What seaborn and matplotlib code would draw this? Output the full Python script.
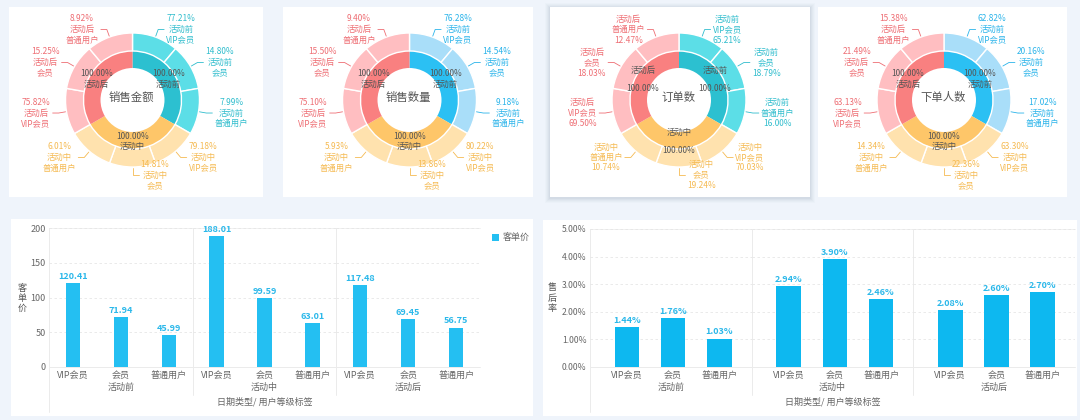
import numpy as np
import pandas as pd
import matplotlib
matplotlib.use('Agg')
import matplotlib.pyplot as plt
import seaborn as sns
from matplotlib.patches import Rectangle, Patch

# ---------------- data ----------------
stages = ['活动前', '活动中', '活动后']
levels = ['VIP会员', '会员', '普通用户']

donut_titles = ['销售金额', '销售数量', '订单数', '下单人数']
sales_amount = [77.21, 14.80, 7.99, 79.18, 14.81, 6.01, 75.82, 15.25, 8.92]
sales_qty = [76.28, 14.54, 9.18, 80.22, 13.86, 5.93, 75.10, 15.50, 9.40]
order_cnt = [65.21, 18.79, 16.00, 70.03, 19.24, 10.74, 69.50, 18.03, 12.47]
buyer_cnt = [62.82, 20.16, 17.02, 63.30, 22.36, 14.34, 63.13, 21.49, 15.38]
stage_share = [100.00, 100.00, 100.00]

unit_price = [120.41, 71.94, 45.99, 188.01, 99.59, 63.01, 117.48, 69.45, 56.75]
after_sale_rate = [1.44, 1.76, 1.03, 2.94, 3.90, 2.46, 2.08, 2.60, 2.70]
price_ticks = [0, 50, 100, 150, 200]
rate_ticks = [0, 1, 2, 3, 4, 5]

# ---------------- style ----------------
sns.set_theme(style='white')
plt.rcParams['font.family'] = ['Noto Sans CJK SC', 'DejaVu Sans']

W, H = 1080, 420
fig = plt.figure(figsize=(10.8, 4.2), dpi=100, facecolor='#EFF4FB')

bg = fig.add_axes([0, 0, 1, 1], zorder=0)
bg.set_xlim(0, W)
bg.set_ylim(H, 0)
bg.axis('off')

top_panels = [(9, 7, 263, 197), (283, 7, 533, 197), (550, 7, 810, 197), (818, 7, 1067, 197)]
bottom_panels = [(11, 219, 533, 416), (543, 220, 1077, 416)]

# shadow for selected panel
x0, y0, x1, y1 = top_panels[2]
for off, a in [(5, 0.025), (4, 0.03), (3, 0.04), (2, 0.05), (1, 0.06)]:
    bg.add_patch(Rectangle((x0 - off, y0 - off + 1), x1 - x0 + 2 * off, y1 - y0 + 2 * off,
                           fc='#6a7a90', ec='none', alpha=a))
for (x0, y0, x1, y1) in top_panels + bottom_panels:
    bg.add_patch(Rectangle((x0, y0), x1 - x0, y1 - y0, fc='white', ec='none'))

# ---------------- donuts ----------------
dax = fig.add_axes([0, 0, 1, 1], zorder=2)
dax.set_facecolor('none')

teal = dict(inner='#2CC0D0', outer='#5CDEE7', label='#30BDCD')
blue = dict(inner='#2BC0F3', outer='#A9DEF9', label='#2BB4EA')
mid_c = dict(inner='#FEC669', outer='#FFE2AE', label='#F5BA52')
post_c = dict(inner='#F98080', outer='#FFBEC1', label='#EE6E74')

donut_data = [sales_amount, sales_qty, order_cnt, buyer_cnt]
first_palette = [teal, blue, teal, blue]
centers = [(132.5, 100), (409.5, 100), (679, 100), (944, 100)]
R_out, R_mid, R_in = 67, 49, 32
lab_fs = 6.0
lab_ls = 1.22

for d in range(4):
    cx, cy = centers[d]
    pals = [first_palette[d], mid_c, post_c]
    inner_cols = [p['inner'] for p in pals]
    outer_cols = [pals[i // 3]['outer'] for i in range(9)]
    outer_sizes = np.repeat(np.array(stage_share) / 3.0, 3)
    dax.pie(stage_share, radius=R_mid, center=(cx, H - cy), startangle=90, counterclock=False,
            colors=inner_cols, wedgeprops=dict(width=R_mid - R_in, linewidth=0), frame=True)
    dax.pie(outer_sizes, radius=R_out, center=(cx, H - cy), startangle=90, counterclock=False,
            colors=outer_cols, wedgeprops=dict(width=R_out - R_mid, edgecolor='white', linewidth=1.0),
            frame=True)
    dax.text(cx - 1, H - cy + 3, donut_titles[d], ha='center', va='center', fontsize=8.2, color='#555555')

    # inner labels
    r_lab = (R_in + R_mid) / 2 + 1
    for g in range(3):
        th = np.deg2rad(60 + 120 * g)
        px, py = cx + r_lab * np.sin(th), cy - r_lab * np.cos(th)
        if d == 2:
            dax.text(px, H - (py - 9), stages[g], ha='center', va='center', fontsize=lab_fs, color='#555555')
            dax.text(px, H - (py + 9), f'{stage_share[g]:.2f}%', ha='center', va='center',
                     fontsize=lab_fs, color='#555555')
        else:
            dax.text(px, H - py, f'{stage_share[g]:.2f}%\n{stages[g]}', ha='center', va='center',
                     fontsize=lab_fs, color='#555555', linespacing=lab_ls)

    # outer labels
    vals = donut_data[d]
    for k in range(9):
        th = np.deg2rad(20 + 40 * k)
        s, c = np.sin(th), np.cos(th)
        side = 1 if s > -1e-6 else -1
        col = pals[k // 3]['label']
        p0 = (cx + (R_out + 1) * s, cy - (R_out + 1) * c)
        p1 = (cx + (R_out + 8) * s, cy - (R_out + 8) * c)
        p2 = (p1[0] + side * 6, p1[1])
        dax.plot([p0[0], p1[0], p2[0]], [H - p0[1], H - p1[1], H - p2[1]], color=col, lw=0.6)
        st, lv = stages[k // 3], levels[k % 3]
        if d == 2:
            txt = f'{st}\n{lv}\n{vals[k]:.2f}%'
        else:
            txt = f'{vals[k]:.2f}%\n{st}\n{lv}'
        dax.text(p2[0] + side * 2, H - p2[1], txt, ha='left' if side > 0 else 'right', va='center',
                 multialignment='center', fontsize=lab_fs, color=col, linespacing=lab_ls)

dax.set_xlim(0, W)
dax.set_ylim(0, H)
dax.set_aspect('auto')
dax.axis('off')


# ---------------- bar charts ----------------
def bar_chart(x0, x1, y0, y1, values, color, lab_color, ylim, ticks, tick_fmt, val_fmt, xlim, width,
              ylabel, ylab_x, tick_fs):
    gw = (x1 - x0) / 3.0
    for g in range(3):
        ax = fig.add_axes([(x0 + g * gw) / W, 1 - y1 / H, gw / W, (y1 - y0) / H], zorder=3)
        ax.set_facecolor('none')
        df = pd.DataFrame({'level': levels, 'value': values[g * 3:(g + 1) * 3]})
        sns.barplot(data=df, x='level', y='value', ax=ax, color=color, width=width,
                    saturation=1, errorbar=None, linewidth=0)
        ax.set_xlim(*xlim)
        ax.set_ylim(*ylim)
        ax.set_yticks(ticks)
        ax.yaxis.grid(True, color='#E6E6E6', linestyle=(0, (3, 3)), lw=0.6)
        ax.set_axisbelow(True)
        for sp in ax.spines.values():
            sp.set_visible(False)
        ax.tick_params(axis='both', length=0, labelsize=6.5, colors='#666666')
        ax.tick_params(axis='x', pad=3)
        if g == 0:
            ax.set_yticklabels([tick_fmt(t) for t in ticks])
            ax.tick_params(axis='y', pad=2.5, labelsize=tick_fs)
        else:
            ax.tick_params(labelleft=False)
        ax.set_ylabel('')
        ax.set_xlabel(stages[g], fontsize=6.5, color='#666666', labelpad=2)
        ax.bar_label(ax.containers[0], labels=[val_fmt(v) for v in df['value']], padding=1.5,
                     fontsize=6.5, color=lab_color, fontweight='bold')
    # frame lines
    bg.plot([x0, x1], [y0, y0], color='#F0F0F0', lw=0.7)
    bg.plot([x0, x1], [y1, y1], color='#EBEBEB', lw=0.7)
    bg.plot([x0, x0], [y0, 412], color='#EBEBEB', lw=0.7)
    for g in (1, 2):
        bg.plot([x0 + g * gw, x0 + g * gw], [y0, 395], color='#EBEBEB', lw=0.7)
    fig.text((x0 + x1) / 2 / W, 1 - 402 / H, '日期类型/ 用户等级标签', ha='center', va='center',
             fontsize=6.5, color='#666666')
    fig.text(ylab_x / W, 1 - 298 / H, ylabel, ha='center', va='center', fontsize=6.5,
             color='#555555', linespacing=1.15)


bar_chart(49, 480, 228, 367, unit_price, '#24BFF2', '#2BB8EA', (0, 200), price_ticks,
          lambda t: f'{t:d}', lambda v: f'{v:.2f}', (-0.5, 2.5), 0.3, '客\n单\n价', 22, 6.5)
bar_chart(590, 1075, 229, 367, after_sale_rate, '#0DB8F0', '#2BB8EA', (0, 5.0), rate_ticks,
          lambda t: f'{t:.2f}%', lambda v: f'{v:.2f}%', (-0.8, 2.7), 0.53, '售\n后\n率', 552, 6.2)

# legend for left bar chart
fig.legend(handles=[Patch(facecolor='#24BFF2', edgecolor='none', label='客单价')],
           loc='upper left', bbox_to_anchor=(484 / W, 1 - 225 / H), frameon=False,
           fontsize=6.5, handlelength=0.8, handleheight=0.8, handletextpad=0.4,
           labelcolor='#666666')

fig.savefig('out.png', dpi=100, facecolor=fig.get_facecolor())
